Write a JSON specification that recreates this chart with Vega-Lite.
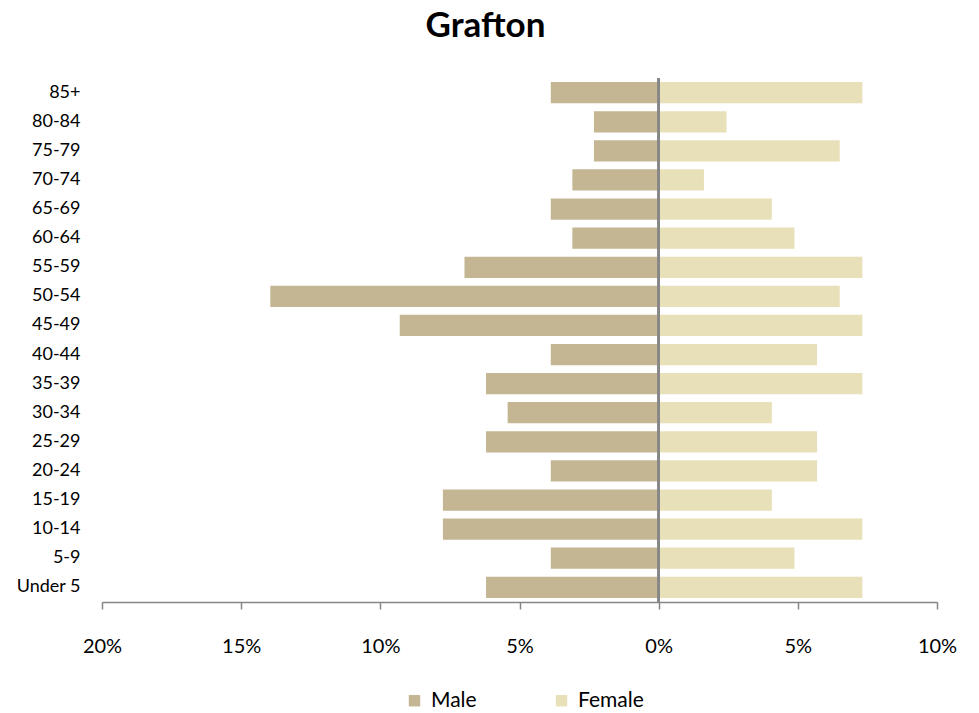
{
  "$schema": "https://vega.github.io/schema/vega-lite/v6.json",
  "width": 835,
  "height": 524,
  "autosize": "none",
  "padding": {"left": 102, "top": 78, "right": 42, "bottom": 111},
  "background": "white",
  "config": {"font": "Lato", "view": {"stroke": null}},
  "title": {"text": "Grafton", "fontSize": 35, "fontWeight": "bold", "font": "Lato", "color": "#000000", "anchor": "middle", "dx": -34, "offset": 33},
  "data": {"values": [
    {"age": "85+", "sex": "Male", "pct": -0.03876},
    {"age": "80-84", "sex": "Male", "pct": -0.02326},
    {"age": "75-79", "sex": "Male", "pct": -0.02326},
    {"age": "70-74", "sex": "Male", "pct": -0.03101},
    {"age": "65-69", "sex": "Male", "pct": -0.03876},
    {"age": "60-64", "sex": "Male", "pct": -0.03101},
    {"age": "55-59", "sex": "Male", "pct": -0.06977},
    {"age": "50-54", "sex": "Male", "pct": -0.13953},
    {"age": "45-49", "sex": "Male", "pct": -0.09302},
    {"age": "40-44", "sex": "Male", "pct": -0.03876},
    {"age": "35-39", "sex": "Male", "pct": -0.06202},
    {"age": "30-34", "sex": "Male", "pct": -0.05426},
    {"age": "25-29", "sex": "Male", "pct": -0.06202},
    {"age": "20-24", "sex": "Male", "pct": -0.03876},
    {"age": "15-19", "sex": "Male", "pct": -0.07752},
    {"age": "10-14", "sex": "Male", "pct": -0.07752},
    {"age": "5-9", "sex": "Male", "pct": -0.03876},
    {"age": "Under 5", "sex": "Male", "pct": -0.06202},
    {"age": "85+", "sex": "Female", "pct": 0.07317},
    {"age": "80-84", "sex": "Female", "pct": 0.02439},
    {"age": "75-79", "sex": "Female", "pct": 0.06504},
    {"age": "70-74", "sex": "Female", "pct": 0.01626},
    {"age": "65-69", "sex": "Female", "pct": 0.04065},
    {"age": "60-64", "sex": "Female", "pct": 0.04878},
    {"age": "55-59", "sex": "Female", "pct": 0.07317},
    {"age": "50-54", "sex": "Female", "pct": 0.06504},
    {"age": "45-49", "sex": "Female", "pct": 0.07317},
    {"age": "40-44", "sex": "Female", "pct": 0.05691},
    {"age": "35-39", "sex": "Female", "pct": 0.07317},
    {"age": "30-34", "sex": "Female", "pct": 0.04065},
    {"age": "25-29", "sex": "Female", "pct": 0.05691},
    {"age": "20-24", "sex": "Female", "pct": 0.05691},
    {"age": "15-19", "sex": "Female", "pct": 0.04065},
    {"age": "10-14", "sex": "Female", "pct": 0.07317},
    {"age": "5-9", "sex": "Female", "pct": 0.04878},
    {"age": "Under 5", "sex": "Female", "pct": 0.07317}
  ]},
  "layer": [
    {
      "mark": {"type": "bar"},
      "encoding": {
        "y": {
          "field": "age", "type": "nominal",
          "sort": ["85+","80-84","75-79","70-74","65-69","60-64","55-59","50-54","45-49","40-44","35-39","30-34","25-29","20-24","15-19","10-14","5-9","Under 5"],
          "scale": {"paddingInner": 0.27, "paddingOuter": 0.14},
          "axis": {"title": null, "domain": false, "ticks": false, "labelPadding": 22, "labelFontSize": 18, "labelColor": "#000000", "labelFont": "Lato"}
        },
        "x": {
          "field": "pct", "type": "quantitative",
          "scale": {"domain": [-0.2, 0.1], "nice": false, "zero": false},
          "axis": {"title": null, "grid": false, "values": [-0.2, -0.15, -0.1, -0.05, 0, 0.05, 0.1],
            "labelExpr": "format(abs(datum.value), '.0%')", "labelFlush": false,
            "domainColor": "#868686", "domainWidth": 1.5, "tickColor": "#868686", "tickWidth": 1.5, "tickSize": 7,
            "labelPadding": 27, "labelFontSize": 20, "labelColor": "#000000", "labelFont": "Lato"}
        },
        "color": {
          "field": "sex", "type": "nominal",
          "scale": {"domain": ["Male", "Female"], "range": ["#C4B693", "#E8E0B8"]},
          "legend": {"title": null, "orient": "none", "direction": "horizontal", "legendX": 302, "legendY": 612,
            "symbolType": "square", "symbolSize": 130, "symbolStrokeWidth": 0, "labelFontSize": 21, "labelFont": "Lato", "labelColor": "#000000", "columnPadding": 74, "labelOffset": 6}
        }
      }
    },
    {
      "mark": {"type": "rule", "color": "#868686", "strokeWidth": 1.5},
      "encoding": {"x": {"datum": 0}}
    }
  ]
}
